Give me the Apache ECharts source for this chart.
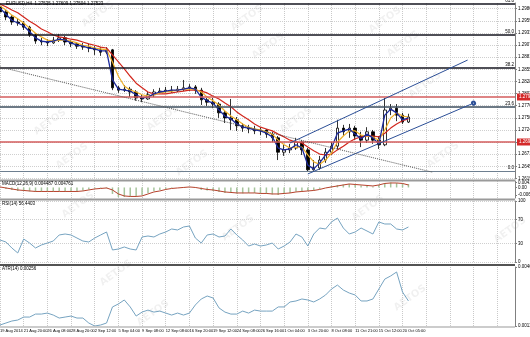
<!DOCTYPE html>
<html><head><meta charset="utf-8">
<script src="https://cdn.jsdelivr.net/npm/echarts@6/dist/echarts.min.js"></script>
<style>html,body{margin:0;padding:0;background:#fff}#c{width:530px;height:337px}</style>
</head><body><div id="c"></div>
<script>
// ---------- data ----------
const tickLabels = ['19 Aug 2014','21 Aug 20:00','26 Aug 08:00','28 Aug 20:00','2 Sep 12:00','5 Sep 04:00','9 Sep 08:00','12 Sep 08:00','16 Sep 20:00','19 Sep 12:00','24 Sep 08:00','26 Sep 16:00','1 Oct 04:00','3 Oct 20:00','8 Oct 08:00','11 Oct 21:00','15 Oct 12:00','20 Oct 05:00'];
const categoryCount = 88;
const priceTicks = [1.29860,1.29598,1.29336,1.29074,1.28812,1.28550,1.28288,1.28026,1.27764,1.27502,1.27240,1.26978,1.26716,1.26454,1.26192];
const macdTicks = [0.00417, 0, -0.00616];
const rsiTicks = [0, 30, 70, 100];
const atrTicks = [0.00111, 0.00467];

const opens = [1.2990,1.2979,1.2968,1.2957,1.2955,1.2946,1.2929,1.2916,1.2914,1.2912,
 1.2918,1.2923,1.2914,1.2910,1.2905,1.2903,1.2901,1.2897,1.2892,1.2897,
 1.2815,1.2810,1.2812,1.2806,1.2793,1.2791,1.2800,1.2806,1.2808,1.2810,
 1.2808,1.2812,1.2815,1.2817,1.2810,1.2789,1.2784,1.2780,1.2761,1.2750,
 1.2746,1.2733,1.2728,1.2726,1.2722,1.2724,1.2715,1.2707,1.2676,1.2681,
 1.2685,1.2698,1.2681,1.2638,1.2642,1.2659,1.2676,1.2689,1.2728,1.2720,
 1.2728,1.2711,1.2702,1.2720,1.2702,1.2692,1.2767,1.2771,1.2756,1.2741];
const closes = [1.2979,1.2968,1.2957,1.2955,1.2946,1.2929,1.2916,1.2914,1.2912,1.2918,
 1.2923,1.2914,1.2910,1.2905,1.2903,1.2901,1.2897,1.2892,1.2897,1.2815,
 1.2810,1.2812,1.2806,1.2793,1.2791,1.2800,1.2806,1.2808,1.2810,1.2808,
 1.2812,1.2815,1.2817,1.2810,1.2789,1.2784,1.2780,1.2761,1.2750,1.2746,
 1.2733,1.2728,1.2726,1.2722,1.2724,1.2715,1.2707,1.2676,1.2681,1.2685,
 1.2698,1.2681,1.2638,1.2642,1.2659,1.2676,1.2689,1.2728,1.2720,1.2728,
 1.2711,1.2702,1.2720,1.2702,1.2692,1.2767,1.2771,1.2756,1.2741,1.2752];
const highs = [1.2994,1.2983,1.2972,1.2964,1.2959,1.2949,1.2933,1.2923,1.2920,1.2925,
 1.2931,1.2927,1.2918,1.2914,1.2912,1.2910,1.2905,1.2903,1.2903,1.2899,
 1.2819,1.2821,1.2817,1.2810,1.2800,1.2806,1.2812,1.2815,1.2817,1.2819,
 1.2819,1.2832,1.2823,1.2821,1.2815,1.2793,1.2793,1.2784,1.2767,1.2791,
 1.2752,1.2739,1.2735,1.2733,1.2730,1.2726,1.2720,1.2711,1.2692,1.2694,
 1.2707,1.2702,1.2685,1.2659,1.2668,1.2685,1.2698,1.2746,1.2735,1.2737,
 1.2733,1.2720,1.2730,1.2724,1.2711,1.2793,1.2780,1.2780,1.2761,1.2759];
const lows = [1.2974,1.2961,1.2951,1.2949,1.2940,1.2925,1.2910,1.2907,1.2905,1.2910,
 1.2914,1.2907,1.2903,1.2899,1.2897,1.2892,1.2886,1.2884,1.2888,1.2810,
 1.2804,1.2806,1.2795,1.2787,1.2784,1.2789,1.2795,1.2802,1.2804,1.2804,
 1.2806,1.2808,1.2808,1.2802,1.2778,1.2776,1.2771,1.2750,1.2739,1.2724,
 1.2722,1.2720,1.2717,1.2715,1.2713,1.2707,1.2698,1.2659,1.2668,1.2674,
 1.2681,1.2670,1.2634,1.2636,1.2638,1.2653,1.2670,1.2681,1.2711,1.2707,
 1.2702,1.2687,1.2696,1.2694,1.2683,1.2689,1.2756,1.2743,1.2737,1.2739];

const maFast = [1.2987,1.2974,1.2961,1.2955,1.2949,1.2936,1.2923,1.2916,1.2914,1.2916,
 1.2920,1.2918,1.2912,1.2907,1.2905,1.2901,1.2899,1.2895,1.2895,1.2832,
 1.2812,1.2810,1.2808,1.2800,1.2793,1.2795,1.2802,1.2806,1.2808,1.2810,
 1.2810,1.2812,1.2815,1.2812,1.2795,1.2787,1.2782,1.2767,1.2754,1.2748,
 1.2737,1.2730,1.2728,1.2724,1.2722,1.2717,1.2709,1.2685,1.2681,1.2683,
 1.2692,1.2685,1.2648,1.2640,1.2653,1.2670,1.2685,1.2717,1.2722,1.2726,
 1.2715,1.2705,1.2715,1.2707,1.2694,1.2756,1.2769,1.2761,1.2746,1.2750];
const maMid = [1.2992,1.2983,1.2972,1.2964,1.2955,1.2944,1.2933,1.2925,1.2918,1.2916,
 1.2918,1.2918,1.2916,1.2912,1.2907,1.2905,1.2901,1.2899,1.2897,1.2871,
 1.2840,1.2819,1.2810,1.2806,1.2800,1.2797,1.2800,1.2804,1.2806,1.2808,
 1.2810,1.2812,1.2812,1.2812,1.2806,1.2795,1.2787,1.2778,1.2765,1.2754,
 1.2746,1.2737,1.2730,1.2726,1.2724,1.2720,1.2715,1.2702,1.2692,1.2685,
 1.2687,1.2687,1.2670,1.2655,1.2650,1.2659,1.2674,1.2698,1.2711,1.2722,
 1.2722,1.2713,1.2711,1.2709,1.2702,1.2724,1.2750,1.2761,1.2754,1.2752];
const maSlow = [1.2996,1.2990,1.2983,1.2977,1.2968,1.2959,1.2951,1.2942,1.2936,1.2929,
 1.2925,1.2923,1.2920,1.2918,1.2914,1.2910,1.2907,1.2903,1.2901,1.2886,
 1.2871,1.2856,1.2840,1.2825,1.2815,1.2806,1.2802,1.2802,1.2802,1.2804,
 1.2806,1.2808,1.2810,1.2810,1.2808,1.2804,1.2797,1.2791,1.2782,1.2774,
 1.2763,1.2754,1.2746,1.2737,1.2730,1.2726,1.2722,1.2715,1.2709,1.2702,
 1.2698,1.2696,1.2687,1.2679,1.2672,1.2670,1.2672,1.2681,1.2689,1.2698,
 1.2705,1.2709,1.2711,1.2711,1.2709,1.2717,1.2728,1.2737,1.2744,1.2748];

const macdHist = [0,-0.00125,-0.00209,-0.00292,-0.00292,-0.00334,-0.00375,-0.00375,-0.00334,-0.00334,
 -0.00292,-0.00334,-0.00375,-0.00334,-0.0025,-0.00167,-0.00083,-0.00042,-0.00083,-0.00542,
 -0.00792,-0.00792,-0.0075,-0.0075,-0.00626,-0.00459,-0.00292,-0.00209,-0.00125,-0.00042,
 0,0.00042,0.00042,-0.00042,-0.00209,-0.0025,-0.00292,-0.00375,-0.00459,-0.00459,
 -0.005,-0.005,-0.00459,-0.00459,-0.005,-0.00542,-0.00584,-0.00626,-0.00542,-0.00459,
 -0.00334,-0.00334,-0.00292,-0.0025,-0.00125,0,0.00125,0.00209,0.0025,0.00292,
 0.0025,0.00167,0.00125,0.00083,0.00209,0.00375,0.00417,0.00375,0.00334,0.00292];
const macdSignal = [0.00042,-0.00042,-0.00125,-0.00209,-0.0025,-0.00292,-0.00334,-0.00334,-0.00334,-0.00334,
 -0.00334,-0.00334,-0.00334,-0.00334,-0.00292,-0.00209,-0.00125,-0.00083,-0.00042,-0.00209,
 -0.00542,-0.00709,-0.0075,-0.0075,-0.00709,-0.00542,-0.00375,-0.00292,-0.00167,-0.00083,
 -0.00042,0,0.00042,0,-0.00083,-0.00167,-0.00209,-0.00292,-0.00375,-0.00417,
 -0.00459,-0.00459,-0.00459,-0.00459,-0.005,-0.005,-0.00542,-0.00542,-0.005,-0.00459,
 -0.00375,-0.00334,-0.00292,-0.0025,-0.00167,-0.00042,0.00042,0.00125,0.00209,0.00292,
 0.0025,0.00209,0.00167,0.00125,0.00209,0.00334,0.00375,0.00375,0.00334,0.00209];

const rsi = [36.1,32.8,23.0,14.8,37.7,31.1,23.0,27.9,31.1,34.4,
 44.3,45.9,44.3,39.3,34.4,32.8,39.3,44.3,49.2,19.7,
 21.3,24.6,21.3,19.7,41.0,42.6,41.0,45.9,49.2,54.1,
 52.5,57.4,59.0,39.3,31.1,44.3,45.9,41.0,42.6,54.1,
 44.3,36.1,26.2,29.5,26.2,27.9,31.1,21.3,26.2,32.8,
 45.9,41.0,26.2,45.9,55.7,54.1,65.6,72.1,55.7,45.9,
 49.2,55.7,50.8,45.9,65.6,62.3,62.3,54.1,52.5,57.4];

const atr = [0.00117,0.00129,0.00141,0.00147,0.00165,0.00165,0.00183,0.00183,0.00189,0.00177,
 0.00159,0.00165,0.00171,0.00159,0.00159,0.00129,0.00111,0.00117,0.00129,0.00226,
 0.00244,0.00268,0.00226,0.00171,0.00195,0.00207,0.00195,0.00201,0.00189,0.00177,
 0.00189,0.00177,0.00189,0.00238,0.00274,0.00292,0.00280,0.00220,0.00195,0.00183,
 0.00183,0.00201,0.00189,0.00207,0.00201,0.00201,0.00201,0.00226,0.00226,0.00256,
 0.00262,0.00274,0.00268,0.00256,0.00274,0.00298,0.00334,0.00358,0.00328,0.00310,
 0.00298,0.00262,0.00262,0.00274,0.00334,0.00394,0.00413,0.00437,0.00316,0.00262];

const fibLevels = ['61.8','50.0','38.2','23.6','0.0'];
const fibPrices = [1.29961,1.29291,1.28578,1.27736,1.26353];
const redLevels = [1.27952, 1.26980];
const lastPrice = 1.27523;
const channelUpper = [[49, 1.2696], [79, 1.2875]];
const channelLower = [[52, 1.2629], [80, 1.2782]];
const trendDotted = [[0, 1.2860], [73, 1.2633]];

// ---------- layout / styling ----------
const FONT = 'Liberation Sans';
const W_RIGHT = 15;
const watermarkSpots = [[247,18],[268,46],[296,120],[192,163],[385,20],[403,44],[425,85],[443,155],[78,205],[116,273],[153,313],[238,228],[368,208],[410,298],[510,230],[98,14],[50,122],[72,156],[163,118]];

const cats = Array.from({length: categoryCount}, (_, i) => String(i));
const candles = opens.map((o, i) => [o, closes[i], lows[i], highs[i]]);

function xAx(gi, showLabels) {
  return {
    type: 'category', gridIndex: gi, data: cats, boundaryGap: false,
    axisLine: {show: false}, axisTick: {show: false},
    splitLine: {show: true, interval: 3, lineStyle: {color: '#c9c9c9', type: 'dotted', width: 1}},
    axisLabel: showLabels ? {
      show: true, interval: 3, fontSize: 4, color: '#000', align: 'left', margin: 3, fontFamily: FONT,
      showMinLabel: true, hideOverlap: false,
      formatter: (v) => { const k = parseInt(v, 10); return (k % 4 === 0 && tickLabels[k / 4]) ? tickLabels[k / 4] : ''; }
    } : {show: false}
  };
}
function yAx(gi, min, max, ticks, fmt, split) {
  return {
    type: 'value', gridIndex: gi, position: 'right', min: min, max: max,
    axisLine: {show: true, lineStyle: {color: '#808080', width: 1}},
    axisTick: {show: true, customValues: ticks, length: 2, lineStyle: {color: '#808080'}},
    axisLabel: {customValues: ticks, fontSize: 4.5, color: '#000', margin: 3, fontFamily: FONT, formatter: fmt},
    splitLine: {show: split, lineStyle: {color: '#cfcfcf', type: 'dotted', width: 1}}
  };
}

const markData = [];
fibLevels.forEach((lv, i) => {
  const col = i < 3 ? '#15151f' : (i === 3 ? '#3d4e5e' : '#6e7f90');
  markData.push({yAxis: fibPrices[i], lineStyle: {color: col, width: i < 4 ? 1.6 : 1.2, type: 'solid'},
    label: {show: true, position: 'insideEndTop', formatter: lv, fontSize: 4.5, color: '#000', fontFamily: FONT, distance: 1}});
});
redLevels.forEach(p => {
  markData.push({yAxis: p, lineStyle: {color: '#d35c5c', width: 1.6, type: 'solid'},
    label: {show: true, position: 'end', formatter: p.toFixed(5), backgroundColor: '#d42a2a', color: '#fff', fontSize: 4.5, fontFamily: FONT, padding: [1, 2], distance: 2}});
});
markData.push({yAxis: lastPrice, lineStyle: {width: 0, opacity: 0},
  label: {show: true, position: 'end', formatter: lastPrice.toFixed(5), backgroundColor: '#000', color: '#fff', fontSize: 4.5, fontFamily: FONT, padding: [1, 2], distance: 2}});
const segStyle = {color: '#2c4f97', width: 1, type: 'solid'};
markData.push([{coord: channelUpper[0], symbol: 'none', lineStyle: segStyle, label: {show: false}}, {coord: channelUpper[1], symbol: 'none', lineStyle: segStyle, label: {show: false}}]);
markData.push([{coord: channelLower[0], symbol: 'none', lineStyle: segStyle, label: {show: false}}, {coord: channelLower[1], symbol: 'emptyCircle', symbolSize: 3, lineStyle: segStyle, label: {show: false}}]);
const dotStyle = {color: '#555', width: 1, type: 'dotted'};
markData.push([{coord: trendDotted[0], symbol: 'none', lineStyle: dotStyle, label: {show: false}}, {coord: trendDotted[1], symbol: 'none', lineStyle: dotStyle, label: {show: false}}]);

const graphics = [];
watermarkSpots.forEach(([x, y]) => graphics.push({type: 'text', x: x, y: y, rotation: 0.62, z: -1,
  style: {text: 'AETOS', fontSize: 10, fontWeight: 'bold', fontFamily: 'DejaVu Sans', fill: 'rgba(0,0,0,0.06)', align: 'center', verticalAlign: 'middle'}}));
graphics.push({type: 'rect', shape: {x: 0, y: 179.5, width: 530 - W_RIGHT, height: 2}, style: {fill: '#9a9a9a'}, z: 10});
graphics.push({type: 'rect', shape: {x: 0, y: 198.5, width: 530 - W_RIGHT, height: 2}, style: {fill: '#9a9a9a'}, z: 10});
graphics.push({type: 'rect', shape: {x: 0, y: 264.2, width: 530 - W_RIGHT, height: 1.6}, style: {fill: '#1a1a1a'}, z: 10});
graphics.push({type: 'rect', shape: {x: 0, y: 326.5, width: 530 - W_RIGHT, height: 1}, style: {fill: '#9a9a9a'}, z: 10});
const hdr = (t, x, y) => ({type: 'text', x: x, y: y, z: 20, style: {text: t, fontSize: 4.5, fontFamily: FONT, fill: '#000'}});
graphics.push(hdr('EURUSD,H4  1.27535 1.27609 1.27504 1.27523', 6, 1.5));
graphics.push(hdr('MACD(12,26,9) 0.004487 0.004761', 2, 181.5));
graphics.push(hdr('RSI(14) 56.4403', 2, 201));
graphics.push(hdr('ATR(14) 0.00256', 2, 266.5));

const chart = echarts.init(document.getElementById('c'), null, {renderer: 'canvas'});
chart.setOption({
  animation: false,
  backgroundColor: '#fff',
  grid: [
    {left: 0, right: W_RIGHT, top: 3, height: 176, outerBoundsMode: 'none'},
    {left: 0, right: W_RIGHT, top: 181, height: 17, outerBoundsMode: 'none'},
    {left: 0, right: W_RIGHT, top: 201, height: 61, outerBoundsMode: 'none'},
    {left: 0, right: W_RIGHT, top: 267, height: 59, outerBoundsMode: 'none'}
  ],
  xAxis: [xAx(0, false), xAx(1, false), xAx(2, false), xAx(3, true)],
  yAxis: [
    yAx(0, 1.26181, 1.29982, priceTicks, v => v.toFixed(5), true),
    yAx(1, -0.0088, 0.0054, macdTicks, v => (Math.abs(v) < 1e-9 ? '0.00' : v.toFixed(5)), false),
    yAx(2, 0, 100, rsiTicks, v => String(Math.round(v)), true),
    yAx(3, 0.00111, 0.00467, atrTicks, v => v.toFixed(5), false)
  ],
  graphic: graphics,
  series: [
    {type: 'candlestick', xAxisIndex: 0, yAxisIndex: 0, data: candles, barWidth: 3,
     itemStyle: {color: '#fff', color0: '#000', borderColor: '#000', borderColor0: '#000', borderWidth: 0.8},
     markLine: {silent: true, animation: false, precision: 5, symbol: ['none', 'none'], data: markData}},
    {type: 'line', xAxisIndex: 0, yAxisIndex: 0, data: maSlow, showSymbol: false, lineStyle: {color: '#d2281e', width: 1.2}},
    {type: 'line', xAxisIndex: 0, yAxisIndex: 0, data: maMid, showSymbol: false, lineStyle: {color: '#efb02a', width: 1.2}},
    {type: 'line', xAxisIndex: 0, yAxisIndex: 0, data: maFast, showSymbol: false, lineStyle: {color: '#1c2a9c', width: 1.3}},
    {type: 'bar', xAxisIndex: 1, yAxisIndex: 1, data: macdHist, barWidth: 1.5, itemStyle: {color: '#a6c49c'}},
    {type: 'line', xAxisIndex: 1, yAxisIndex: 1, data: macdSignal, showSymbol: false, lineStyle: {color: '#b5412b', width: 1}},
    {type: 'line', xAxisIndex: 2, yAxisIndex: 2, data: rsi, showSymbol: false, lineStyle: {color: '#76a3c0', width: 1}},
    {type: 'line', xAxisIndex: 3, yAxisIndex: 3, data: atr, showSymbol: false, lineStyle: {color: '#76a3c0', width: 1}}
  ]
});
</script></body></html>
